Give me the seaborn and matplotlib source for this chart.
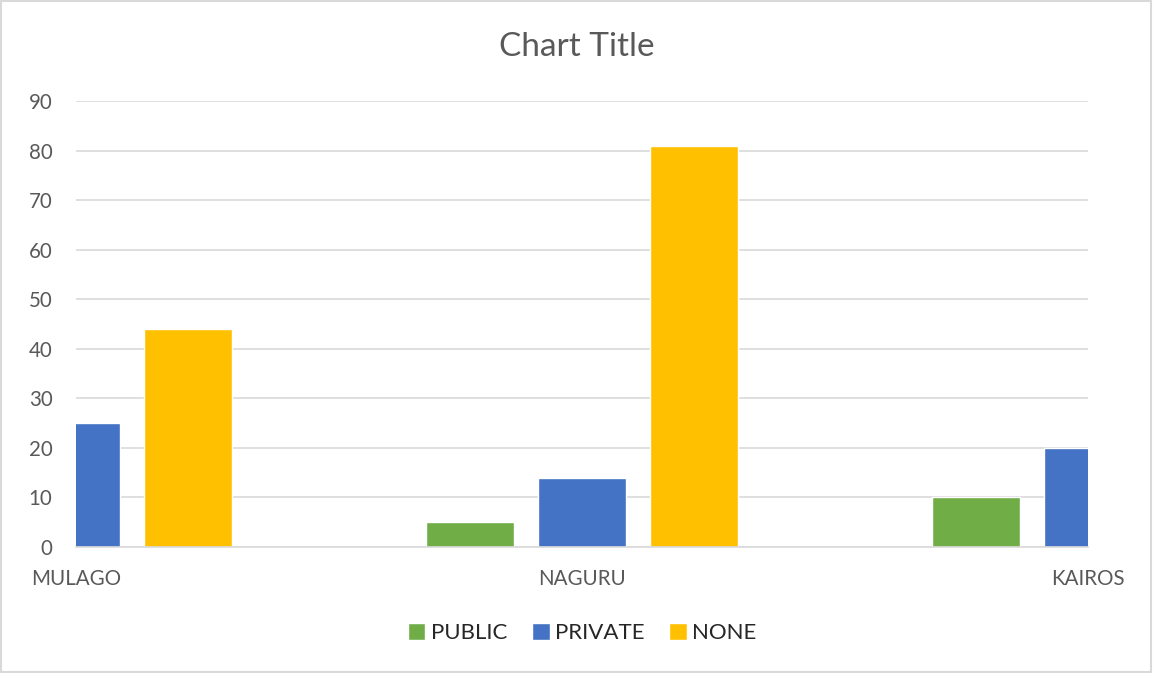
import matplotlib
matplotlib.use("Agg")
import matplotlib.pyplot as plt
import seaborn as sns
import pandas as pd
import numpy as np

sites = ["MULAGO", "NAGURU", "KAIROS"]
series = ["PUBLIC", "PRIVATE", "NONE"]
public_vals = [np.nan, 5, 10]
private_vals = [25, 14, 20]
none_vals = [44, 81, np.nan]
colors = ["#70AD47", "#4472C4", "#FFC000"]
yticks = [0, 10, 20, 30, 40, 50, 60, 70, 80, 90]

df = pd.DataFrame({
    "site": sites * 3,
    "kind": [s for s in series for _ in sites],
    "value": public_vals + private_vals + none_vals,
})

sns.set_theme(style="white")
plt.rcParams["font.family"] = ["Lato", "DejaVu Sans"]

fig = plt.figure(figsize=(11.53, 6.73), dpi=100)
ax = fig.add_axes([0.0660, 0.1872, 0.8777, 0.6628])

sns.barplot(data=df, x="site", y="value", hue="kind", order=sites,
            hue_order=series, palette=colors, width=0.666, gap=0.216,
            saturation=1, ax=ax, legend=True, errorbar=None)

ax.set_xlim(0, 2)
ax.set_ylim(0, 90)
ax.set_yticks(yticks)
ax.yaxis.grid(True, color="#D9D9D9", linewidth=1.2)
ax.set_axisbelow(True)
for side in ["top", "right", "left"]:
    ax.spines[side].set_visible(False)
ax.spines["bottom"].set_color("#D9D9D9")
ax.spines["bottom"].set_linewidth(1.2)
ax.tick_params(axis="both", length=0, labelsize=14.8, colors="#595959")
ax.tick_params(axis="y", pad=17)
ax.tick_params(axis="x", pad=16)
ax.set_xlabel("")
ax.set_ylabel("")

fig.text(0.5, 1 - 47 / 673, "Chart Title", fontsize=24, color="#595959",
         ha="center", va="center")

handles, labels = ax.get_legend_handles_labels()
ax.legend(handles, labels, loc="center", bbox_to_anchor=(0.5, -0.193),
          ncol=3, frameon=False, fontsize=16, handlelength=0.8,
          handleheight=0.8, columnspacing=1.1, handletextpad=0.25,
          labelcolor="#262626")

# outer chart border
fig.patches.append(plt.Rectangle((0.001, 0.001), 0.997, 0.997,
                                 transform=fig.transFigure, fill=False,
                                 edgecolor="#D9D9D9", linewidth=1.5))

fig.savefig("out.png", dpi=100)
